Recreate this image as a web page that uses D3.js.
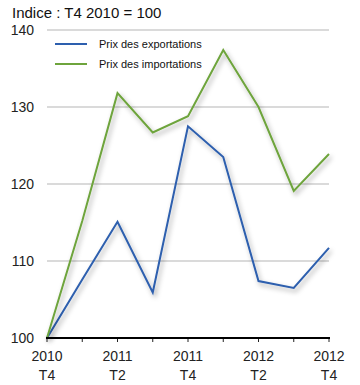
<!DOCTYPE html>
<html><head><meta charset="utf-8">
<script src="https://cdn.jsdelivr.net/npm/d3@7"></script>
<style>body{margin:0;background:#fff}svg{display:block;font-family:Helvetica,Arial,"Liberation Sans",sans-serif}</style>
</head><body><svg id="c" width="360" height="385"></svg>
<script>
const categories = ["2010 T4","2011 T1","2011 T2","2011 T3","2011 T4","2012 T1","2012 T2","2012 T3","2012 T4"];
const exportsIdx = [100, 107.6, 115.1, 105.9, 127.5, 123.5, 107.4, 106.5, 111.7];
const importsIdx = [100, 115.2, 131.8, 126.7, 128.8, 137.4, 130.0, 119.1, 123.9];
const yTicks = [100, 110, 120, 130, 140];
const xLabelIdx = [0, 2, 4, 6, 8];
const seriesNames = ["Prix des exportations", "Prix des importations"];
const colors = ["#2d5fae", "#6ea43c"];

const svg = d3.select("#c");
const L = 47, R = 329, T = 30, B = 338;
const x = d3.scalePoint().domain(categories).range([L, R]);
const y = d3.scaleLinear().domain([100, 140]).range([B, T]);

const defs = svg.append("defs");
const f = defs.append("filter").attr("id","sh").attr("x","-20%").attr("y","-20%").attr("width","140%").attr("height","140%");
f.append("feDropShadow").attr("dx",2).attr("dy",3).attr("stdDeviation",2.5).attr("flood-color","#000").attr("flood-opacity",0.35);

svg.append("text").attr("x",12).attr("y",18).attr("font-size",15).attr("fill","#111").text("Indice : T4 2010 = 100");

// gridlines
svg.append("g").selectAll("line").data(yTicks.filter(d=>d>100)).join("line")
  .attr("x1",L).attr("x2",R).attr("y1",d=>y(d)).attr("y2",d=>y(d))
  .attr("stroke","#b5b5b5").attr("stroke-width",1);

// y labels
svg.append("g").selectAll("text").data(yTicks).join("text")
  .attr("x",34).attr("y",d=>y(d)+5).attr("text-anchor","end")
  .attr("font-size",14).attr("fill","#222").text(d=>d);

// lines
const line = d3.line().x((d,i)=>x(categories[i])).y(d=>y(d));
[exportsIdx, importsIdx].forEach((s,k)=>{
  svg.append("path").attr("d",line(s)).attr("fill","none")
    .attr("stroke",colors[k]).attr("stroke-width",2).attr("stroke-linejoin","miter")
    .attr("filter","url(#sh)");
});

// x axis
const ax = svg.append("g");
ax.selectAll("line.t").data(categories).join("line")
  .attr("x1",d=>x(d)).attr("x2",d=>x(d)).attr("y1",B).attr("y2",B+4)
  .attr("stroke","#222").attr("stroke-width",1);
ax.append("line").attr("x1",L-1).attr("x2",R+1).attr("y1",B).attr("y2",B)
  .attr("stroke","#000").attr("stroke-width",2);
const xl = ax.selectAll("text").data(xLabelIdx).join("text")
  .attr("text-anchor","middle").attr("font-size",14).attr("fill","#222");
xl.append("tspan").attr("x",i=>x(categories[i])).attr("y",361).text(i=>categories[i].split(" ")[0]);
xl.append("tspan").attr("x",i=>x(categories[i])).attr("y",380).text(i=>categories[i].split(" ")[1]);

// legend
const lg = svg.append("g");
seriesNames.forEach((n,k)=>{
  const yy = 44 + k*20;
  lg.append("line").attr("x1",55).attr("x2",87).attr("y1",yy).attr("y2",yy)
    .attr("stroke",colors[k]).attr("stroke-width",2);
  lg.append("text").attr("x",99).attr("y",yy+4).attr("font-size",11).attr("fill","#111").text(n);
});
</script></body></html>
